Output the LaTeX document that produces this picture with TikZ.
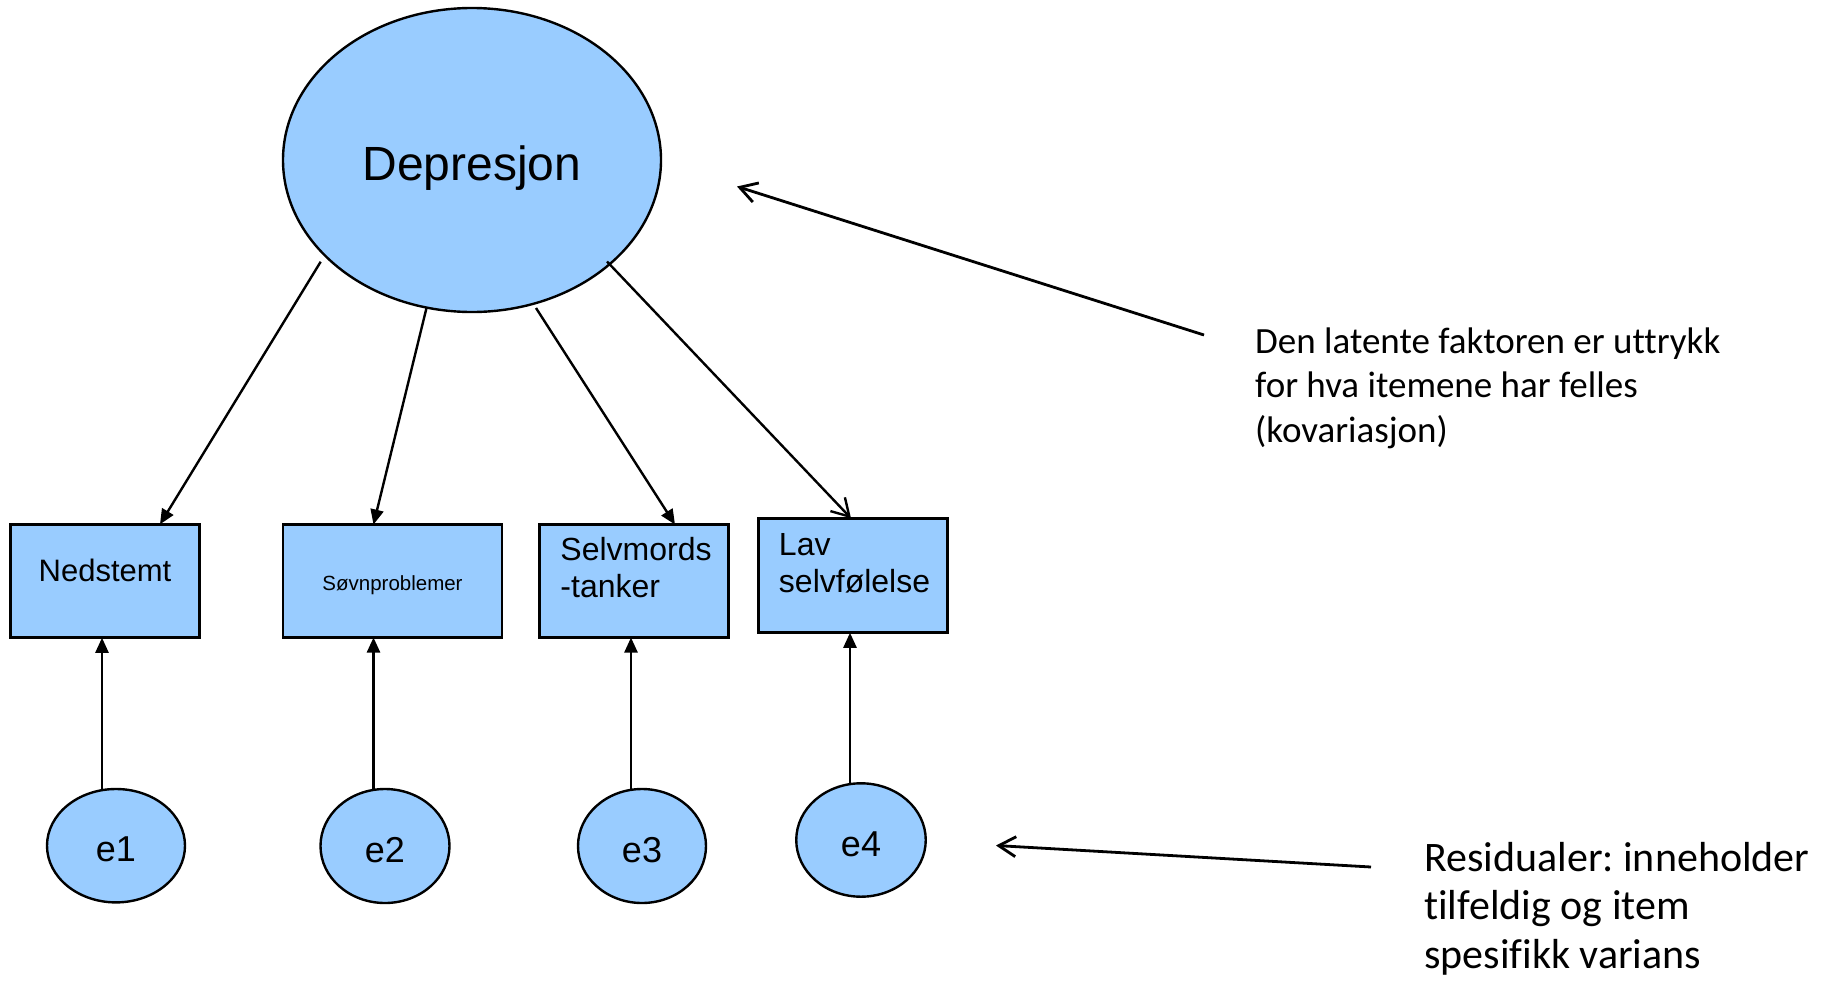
\documentclass[tikz,border=0pt]{standalone}
\usepackage{fontspec}
\setmainfont{Liberation Sans}
\newfontfamily\calfont[Ligatures=NoCommon]{Carlito}
\usetikzlibrary{arrows.meta,shapes.geometric,calc}
\definecolor{nodeblue}{RGB}{153,204,255}
\frenchspacing
\begin{document}
\begin{tikzpicture}[x=1pt,y=-1pt,
  lat/.style={ellipse,draw=black,line width=2.4pt,fill=nodeblue,inner sep=0pt,outer sep=0pt},
  obs/.style={rectangle,draw=black,line width=2.6pt,fill=nodeblue,inner sep=0pt,outer sep=0pt},
  efont/.style={font=\fontsize{36}{43}\selectfont,text height=32pt,text depth=0pt},
  lbl/.style={font=\fontsize{32}{37}\selectfont,align=left,inner sep=0pt,anchor=base west},
  noteA/.style={font=\calfont\fontsize{37}{44.5}\selectfont,align=left,inner sep=0pt,anchor=base west},
  noteB/.style={font=\calfont\fontsize{42}{48.5}\selectfont,align=left,inner sep=0pt,anchor=base west},
  load/.style={line width=2.4pt,-{Triangle[length=15pt,width=13pt]}},
  openarr/.style={line width=2.4pt,-{Straight Barb[length=17pt,width=20pt]}},
  annot/.style={line width=2.8pt,-{Straight Barb[length=17pt,width=20pt]}}
]
\path[use as bounding box,fill=white] (0,0) rectangle (1834,980);

% latent factor
\node[lat,minimum width=378pt,minimum height=304pt,font=\fontsize{48}{58}\selectfont,text height=40pt,text depth=0pt] (dep) at (472,160) {Depresjon};

% observed items
\node[obs,minimum width=189.5pt,minimum height=113.5pt,font=\fontsize{31}{37}\selectfont,text height=0pt,text depth=0pt] (n1) at (105,581) {Nedstemt};
\node[obs,minimum width=219pt,minimum height=113pt,font=\fontsize{20.5}{25}\selectfont,text height=18pt,text depth=0pt] (n2) at (392.5,581) {Søvnproblemer};
\node[obs,minimum width=189.5pt,minimum height=113pt] (n3) at (634,581) {};
\node[lbl] (t3) at ($(n3.north west)+(21,72.5)$) {Selvmords\\-tanker};
\node[obs,minimum width=188.5pt,minimum height=114.5pt] (n4) at (853,575.5) {};
\node[lbl] (t4) at ($(n4.north west)+(20,74)$) {Lav\\selvfølelse};

% residuals
\node[lat,minimum width=138pt,minimum height=113.4pt,efont] (e1) at (116,845.7) {e1};
\node[lat,minimum width=129pt,minimum height=114pt,efont] (e2) at (385,846) {e2};
\node[lat,minimum width=128pt,minimum height=114pt,efont] (e3) at (642,846) {e3};
\node[lat,minimum width=129.5pt,minimum height=113.4pt,efont] (e4) at (861,840) {e4};

% annotations
\node[noteA] (tA) at (1255,442) {Den latente faktoren er uttrykk\\for hva itemene har felles\\(kovariasjon)};
\node[noteB] (tB) at (1424,968) {Residualer: inneholder\\tilfeldig og item\\spesifikk varians};
\coordinate (aAs) at (1204,335);
\coordinate (aAt) at (737,186.5);
\coordinate (aBs) at (1371,867);
\coordinate (aBt) at (996,845.5);
\draw[annot] (aAs) -- (aAt);
\draw[annot] (aBs) -- (aBt);

% loadings
\draw[load] ($(dep.center)+(-151.3,101.7)$) -- ($(n1.north)+(55,0)$);
\draw[load] ($(dep.center)+(-45.5,148)$) -- ($(n2.north)+(-19,0)$);
\draw[load] ($(dep.center)+(64,148)$) -- ($(n3.north)+(41,0)$);
\draw[openarr] ($(dep.center)+(135,101.5)$) -- ($(n4.north)+(-2,0)$);

% residual paths
\draw[load] ($(e1.center)+(-14,-55.7)$) -- ($(n1.south)+(-3,0)$);
\draw[load] ($(e2.center)+(-11.5,-56.2)$) -- ($(n2.south)+(-19,0)$);
\draw[load] ($(e3.center)+(-11,-56.2)$) -- ($(n3.south)+(-3,0)$);
\draw[load] ($(e4.center)+(-11,-56)$) -- ($(n4.south)+(-3,0)$);
\end{tikzpicture}
\end{document}
